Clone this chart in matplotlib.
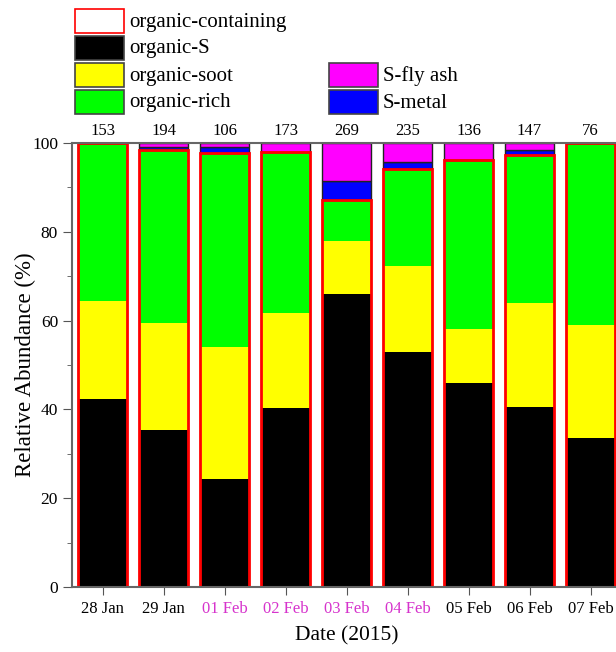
from matplotlib import pyplot as plt
from matplotlib.patches import Rectangle
import numpy as np

plt.rcParams['font.family'] = ['Liberation Serif', 'DejaVu Serif']

dates = ['28 Jan', '29 Jan', '01 Feb', '02 Feb', '03 Feb', '04 Feb', '05 Feb', '06 Feb', '07 Feb']
counts = [153, 194, 106, 173, 269, 235, 136, 147, 76]
organic_s = [42.3, 35.4, 24.3, 40.4, 66.0, 53.0, 46.0, 40.5, 33.5]
organic_soot = [22.1, 24.1, 29.7, 21.3, 12.0, 19.4, 12.0, 23.5, 25.5]
organic_rich = [35.6, 38.9, 43.7, 36.2, 9.2, 21.7, 38.2, 33.2, 41.0]
s_metal = [0.0, 0.8, 1.3, 0.0, 4.3, 1.7, 0.0, 1.3, 0.0]
s_flyash = [0.0, 0.8, 1.0, 2.1, 8.5, 4.2, 3.8, 1.5, 0.0]
haze_days = ['01 Feb', '02 Feb', '03 Feb', '04 Feb']

W, H = 616, 652
fig = plt.figure(figsize=(W / 100, H / 100), dpi=100)
ax = fig.add_axes([72 / W, 65 / H, 549 / W, 444 / H])

x = np.arange(len(dates))
w = 0.8
s = np.array(organic_s)
soot = np.array(organic_soot)
rich = np.array(organic_rich)
metal = np.array(s_metal)
fly = np.array(s_flyash)
org_total = s + soot + rich

ax.bar(x, s, w, color='black', lw=0)
ax.bar(x, soot, w, bottom=s, color='#ffff00', lw=0)
ax.bar(x, rich, w, bottom=s + soot, color='#00ff00', lw=0)
ax.bar(x, metal, w, bottom=org_total, color='#0000ff', edgecolor='#222222', lw=1)
ax.bar(x, fly, w, bottom=org_total + metal, color='#ff00ff', edgecolor='#222222', lw=1)
ax.bar(x, org_total, w, fill=False, edgecolor='#ff0000', lw=2)

for xi, c in zip(x, counts):
    ax.text(xi, 101.9, str(c), ha='center', va='baseline', fontsize=12)

ax.set_xlim(-0.5, 8.5)
ax.set_ylim(0, 100)
ax.set_xticks(x)
ax.set_xticklabels(dates, fontsize=12)
for lab in ax.get_xticklabels():
    if lab.get_text() in haze_days:
        lab.set_color('#d633cc')
ax.set_yticks(np.arange(0, 101, 20))
ax.set_yticks(np.arange(10, 100, 20), minor=True)
ax.tick_params(axis='y', labelsize=12.5, length=6.5, pad=3.5, color='#555555')
ax.tick_params(axis='y', which='minor', length=3.5, color='#555555')
ax.tick_params(axis='x', length=6, color='#555555', pad=4)
for sp in ['left', 'top', 'bottom']:
    ax.spines[sp].set_color('#666666')
    ax.spines[sp].set_linewidth(1.5)
ax.spines['right'].set_visible(False)

ax.set_ylabel('Relative Abundance (%)', fontsize=16.5, labelpad=-3)
ax.set_xlabel('Date (2015)', fontsize=15.5, labelpad=6.5)

# legend drawn by hand, pixel positions from the top-left corner
legend_items = [
    ('organic-containing', 'white', '#ff0000', 75, 9),
    ('organic-S', 'black', '#444444', 75, 36),
    ('organic-soot', '#ffff00', '#444444', 75, 63),
    ('organic-rich', '#00ff00', '#444444', 75, 90),
    ('S-fly ash', '#ff00ff', '#444444', 329, 63),
    ('S-metal', '#0000ff', '#444444', 329, 90),
]
for label, fc, ec, px, py in legend_items:
    fig.add_artist(Rectangle((px / W, 1 - (py + 24) / H), 49 / W, 24 / H,
                             facecolor=fc, edgecolor=ec, lw=1.2,
                             transform=fig.transFigure))
    fig.text((px + 54) / W, 1 - (py + 13) / H, label, fontsize=15, va='center', ha='left')

fig.savefig('out.png', dpi=100)
